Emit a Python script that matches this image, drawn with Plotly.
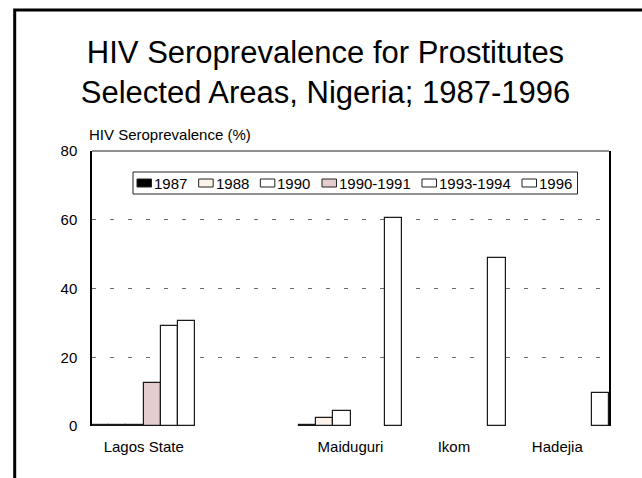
import plotly.graph_objects as go

# ---- data -------------------------------------------------------------
CATEGORIES = ["Lagos State", " ", "Maiduguri", "Ikom", "Hadejia"]
PERIODS = ["1987", "1988", "1990", "1990-1991", "1993-1994", "1996"]

VALUES_1987 = [0.2, None, 0.3, None, None]
VALUES_1988 = [0.2, None, 2.2, None, None]
VALUES_1990 = [0.3, None, 4.5, None, None]
VALUES_1990_1991 = [12.4, None, None, None, None]
VALUES_1993_1994 = [29.2, None, None, None, None]
VALUES_1996 = [30.6, None, 60.6, 48.8, 9.5]

Y_TICKS = [0, 20, 40, 60, 80]

TITLE = "HIV Seroprevalence for Prostitutes<br>Selected Areas, Nigeria; 1987-1996"
Y_TITLE = "HIV Seroprevalence (%)"

# ---- styling ----------------------------------------------------------
FILLS = ["#000000", "#FCF3EB", "#FFFFFF", "#E6CDCD", "#FFFFFF", "#FFFFFF"]
FONT = "Liberation Sans, Arial, sans-serif"
FONT_SIZE = 15

W, H = 642, 478
PLOT_L, PLOT_R, PLOT_T, PLOT_B = 92, 609, 151, 426


def px_x(x):
    return (x - PLOT_L) / (PLOT_R - PLOT_L)


def px_y(y):
    return (PLOT_B - y) / (PLOT_B - PLOT_T)


def text_width(s, size=FONT_SIZE):
    # Arial advance widths for the glyphs used in the legend labels
    widths = {"-": 0.333}
    return size * sum(widths.get(c, 0.556) for c in s)


series = [VALUES_1987, VALUES_1988, VALUES_1990,
          VALUES_1990_1991, VALUES_1993_1994, VALUES_1996]

fig = go.Figure()
for name, vals, fill in zip(PERIODS, series, FILLS):
    fig.add_trace(go.Bar(
        x=CATEGORIES, y=vals, name=name, showlegend=False,
        marker=dict(color=fill, line=dict(color="#1a1a1a", width=1.2)),
    ))

shapes = []
annotations = []

# outer frame of the slide
shapes.append(dict(type="rect", xref="paper", yref="paper",
                   x0=px_x(14.7), x1=px_x(700), y0=px_y(540), y1=px_y(10),
                   line=dict(color="black", width=3), fillcolor="rgba(0,0,0,0)"))
# top edge of the plotting area
shapes.append(dict(type="line", xref="paper", yref="paper",
                   x0=0, x1=1, y0=1, y1=1,
                   line=dict(color="#222222", width=1.2)))

# legend box with swatches
LEG_L, LEG_R, LEG_T, LEG_B = 133, 577.5, 172, 194
SW_W, SW_T, SW_B = 14.5, 179, 187
shapes.append(dict(type="rect", xref="paper", yref="paper",
                   x0=px_x(LEG_L), x1=px_x(LEG_R), y0=px_y(LEG_B), y1=px_y(LEG_T),
                   line=dict(color="#222222", width=1), fillcolor="white"))
x = 137.0
for name, fill in zip(PERIODS, FILLS):
    shapes.append(dict(type="rect", xref="paper", yref="paper",
                       x0=px_x(x), x1=px_x(x + SW_W), y0=px_y(SW_B), y1=px_y(SW_T),
                       line=dict(color="#222222", width=1), fillcolor=fill))
    tx = x + SW_W + 1.5
    annotations.append(dict(text=name, xref="paper", yref="paper",
                            x=px_x(tx), y=px_y(183), xanchor="left", yanchor="middle",
                            showarrow=False, borderpad=0,
                            font=dict(family=FONT, size=FONT_SIZE, color="black")))
    x = tx + text_width(name) + 12.3

# value-axis caption
annotations.append(dict(text=Y_TITLE, xref="paper", yref="paper",
                        x=px_x(88), y=px_y(134), xanchor="left", yanchor="middle",
                        showarrow=False, borderpad=0,
                        font=dict(family=FONT, size=FONT_SIZE, color="black")))

fig.update_layout(
    width=W, height=H,
    margin=dict(l=PLOT_L, r=W - PLOT_R, t=PLOT_T, b=H - PLOT_B, pad=0),
    paper_bgcolor="white", plot_bgcolor="white",
    barmode="group", bargap=0, bargroupgap=0,
    title=dict(text=TITLE, x=0.507, xanchor="center", y=1 - 63 / H, yanchor="top",
               font=dict(family=FONT, size=31, color="black")),
    font=dict(family=FONT, size=FONT_SIZE, color="black"),
    xaxis=dict(type="category", categoryorder="array", categoryarray=CATEGORIES,
               showgrid=False, showline=False, zeroline=False, ticks="",
               tickfont=dict(size=FONT_SIZE, color="black"), ticklabelstandoff=10),
    yaxis=dict(range=[0, 80], tickvals=Y_TICKS, showgrid=True,
               gridcolor="#6e6e6e", gridwidth=1, griddash="4px,14px",
               zeroline=False, showline=True, linecolor="black", linewidth=1.5,
               mirror=True, ticks="", ticklabelstandoff=10,
               tickfont=dict(size=FONT_SIZE, color="black")),
    shapes=shapes, annotations=annotations,
)

fig.write_html("out.html")
